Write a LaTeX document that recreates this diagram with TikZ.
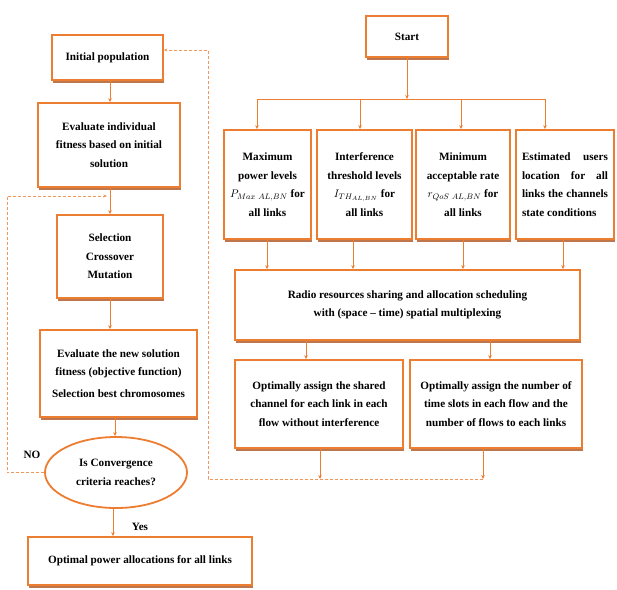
\documentclass[tikz,border=0pt]{standalone}
\usepackage{fontspec}
\setmainfont{Liberation Serif}
\usetikzlibrary{shapes.geometric,arrows.meta,shadows,calc}
\definecolor{org}{HTML}{ED7D31}
\definecolor{orgshadow}{HTML}{B8693A}
\begin{document}
\begin{tikzpicture}[x=1pt,y=-1pt,
  txt/.style={font=\bfseries\fontsize{11.2}{18.5}\selectfont},
  box/.style={txt,draw=org,line width=1.8pt,fill=white,align=center,inner sep=1pt,
    drop shadow={shadow xshift=1.2pt,shadow yshift=-3pt,fill=orgshadow,opacity=0.9}},
  arr/.style={draw=org,line width=1pt,-{Stealth[length=4pt,width=3.5pt]}},
  ln/.style={draw=org,line width=1pt},
  dsh/.style={draw=org!80,line width=1pt,dashed,dash pattern=on 3pt off 2pt},
]
\useasboundingbox[fill=white] (0,0) rectangle (617,589);

% left column
\node[box,minimum width=111pt,minimum height=45pt] (init) at (107.5,57.5) {Initial population};
\node[box,minimum width=142pt,minimum height=84pt] (evalind) at (109,145) {Evaluate individual\\fitness based on initial\\solution};
\node[box,minimum width=106pt,minimum height=83pt] (sel) at (110,256.5) {Selection\\Crossover\\Mutation};
\node[box,minimum width=157pt,minimum height=87pt] (evalnew) at (118.5,373.5) {Evaluate the new solution\\fitness (objective function)\\[3pt]Selection best chromosomes};
\node[txt,ellipse,draw=org,line width=1.8pt,fill=white,align=center,inner sep=0pt,
      minimum width=142pt,minimum height=71pt] (conv) at (116,472.5) {Is Convergence\\criteria reaches?};
\node[box,minimum width=224pt,minimum height=48pt] (opt) at (140,561) {Optimal power allocations for all links};
\node[txt] (no) at (32,455) {NO};
\node[txt] (yes) at (140,527) {Yes};

\coordinate (lc) at (110,0);
\draw[arr] (init.south -| lc) -- (evalind.north -| lc);
\draw[arr] (evalind.south -| lc) -- (sel.north -| lc);
\draw[arr] (sel.south -| lc) -- (evalnew.north -| lc);
\coordinate (lc3) at (115,0);
\draw[arr] (evalnew.south -| lc3) -- (conv.north -| lc3);
\coordinate (lc2) at (113,0);
\draw[arr] (conv.south -| lc2) -- (opt.north -| lc2);

% NO loop
\coordinate (loopL) at (7,196);
\coordinate (loopR) at (107,196);
\draw[dsh,-{Stealth[length=3.5pt,width=3pt]}] (conv.west) -- (conv.west -| loopL) -- (loopL) -- (loopR);

% right side
\node[box,minimum width=82pt,minimum height=41pt] (start) at (407,36.5) {Start};
\node[box,minimum width=87pt,minimum height=109pt] (b1) at (267.5,184.5) {Maximum\\power levels\\$P_{Max\ AL,BN}$ for\\all links};
\node[box,minimum width=95pt,minimum height=109pt] (b2) at (364.5,184.5) {Interference\\threshold levels\\$I_{TH_{AL,BN}}$ for\\all links};
\node[box,minimum width=94pt,minimum height=109pt] (b3) at (463,184.5) {Minimum\\acceptable rate\\$r_{QoS\ AL,BN}$ for\\all links};
\node[box,minimum width=98pt,minimum height=109pt] (b4) at (565,184.5) {\makebox[86pt][s]{Estimated \hfill users}\\\makebox[86pt][s]{location for all}\\\makebox[86pt][s]{links the channels}\\\makebox[86pt][l]{state conditions}};
\node[box,minimum width=345pt,minimum height=70pt] (radio) at (407.5,305) {Radio resources sharing and allocation scheduling\\with (space -- time) spatial multiplexing};
\node[box,minimum width=168pt,minimum height=88pt] (bl) at (319,404) {Optimally assign the shared\\channel for each link in each\\flow without interference};
\node[box,minimum width=172pt,minimum height=88pt] (br) at (496,404) {Optimally assign the number of\\time slots in each flow and the\\number of flows to each links};

\coordinate (bar) at (0,99);
\coordinate (t1) at (257,99);
\coordinate (t2) at (360,99);
\coordinate (t3) at (461,99);
\coordinate (t4) at (545,99);
\draw[arr] (start.south) -- (start.south |- bar);
\draw[ln] (t1) -- (t4);
\foreach \t/\b in {t1/b1,t2/b2,t3/b3,t4/b4} \draw[arr] (\t) -- (\t |- \b.north);

\foreach \x/\b in {267/b1,353/b2,463/b3,563/b4}{
  \coordinate (d\b) at (\x,0);
  \draw[arr] (\b.south -| d\b) -- (radio.north -| d\b);
}
\coordinate (rl) at (306,0);
\coordinate (rr) at (490,0);
\draw[arr] (radio.south -| rl) -- (bl.north -| rl);
\draw[arr] (radio.south -| rr) -- (br.north -| rr);

% feedback dashed
\coordinate (fbR) at (483,479);
\coordinate (fbL) at (208,479);
\coordinate (fbT) at (208,50);
\coordinate (ol) at (320,479);
\draw[dsh,-{Stealth[length=3.5pt,width=3pt]}] (fbR) -- (fbL) -- (fbT) -- (init.east |- fbT);
\draw[arr] (bl.south -| ol) -- (ol);
\draw[arr] (br.south -| fbR) -- (fbR);
\end{tikzpicture}
\end{document}
